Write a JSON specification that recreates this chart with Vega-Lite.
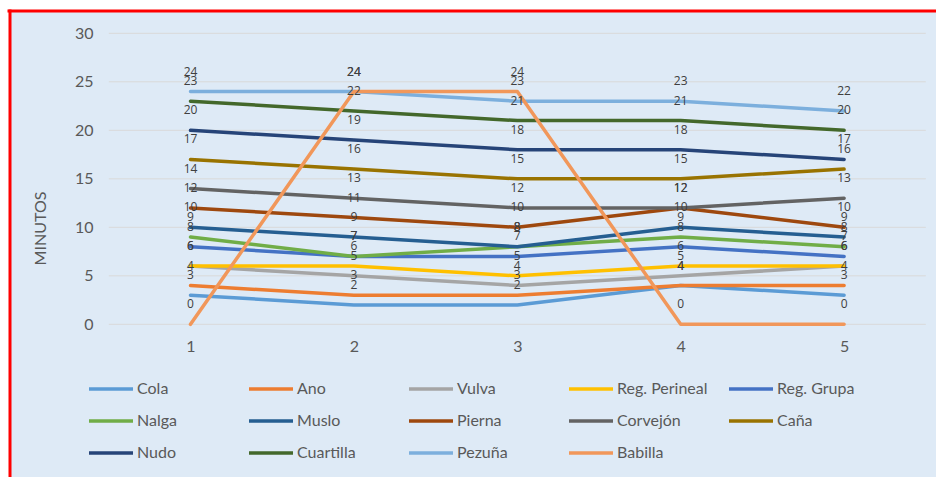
{
  "$schema": "https://vega.github.io/schema/vega-lite/v6.json",
  "width": 927,
  "height": 466,
  "autosize": {"type": "none"},
  "padding": {"left": 9, "top": 11, "right": 0, "bottom": 0},
  "background": "white",
  "config": {
    "view": {"fill": "#DEEAF6", "stroke": null},
    "font": "Lato"
  },
  "datasets": {
    "series": [
      {"serie": "Cola", "intervalo": 1, "minutos": 3}, {"serie": "Cola", "intervalo": 2, "minutos": 2}, {"serie": "Cola", "intervalo": 3, "minutos": 2}, {"serie": "Cola", "intervalo": 4, "minutos": 4}, {"serie": "Cola", "intervalo": 5, "minutos": 3},
      {"serie": "Ano", "intervalo": 1, "minutos": 4}, {"serie": "Ano", "intervalo": 2, "minutos": 3}, {"serie": "Ano", "intervalo": 3, "minutos": 3}, {"serie": "Ano", "intervalo": 4, "minutos": 4}, {"serie": "Ano", "intervalo": 5, "minutos": 4},
      {"serie": "Vulva", "intervalo": 1, "minutos": 6}, {"serie": "Vulva", "intervalo": 2, "minutos": 5}, {"serie": "Vulva", "intervalo": 3, "minutos": 4}, {"serie": "Vulva", "intervalo": 4, "minutos": 5}, {"serie": "Vulva", "intervalo": 5, "minutos": 6},
      {"serie": "Reg. Perineal", "intervalo": 1, "minutos": 6}, {"serie": "Reg. Perineal", "intervalo": 2, "minutos": 6}, {"serie": "Reg. Perineal", "intervalo": 3, "minutos": 5}, {"serie": "Reg. Perineal", "intervalo": 4, "minutos": 6}, {"serie": "Reg. Perineal", "intervalo": 5, "minutos": 6},
      {"serie": "Reg. Grupa", "intervalo": 1, "minutos": 8}, {"serie": "Reg. Grupa", "intervalo": 2, "minutos": 7}, {"serie": "Reg. Grupa", "intervalo": 3, "minutos": 7}, {"serie": "Reg. Grupa", "intervalo": 4, "minutos": 8}, {"serie": "Reg. Grupa", "intervalo": 5, "minutos": 7},
      {"serie": "Nalga", "intervalo": 1, "minutos": 9}, {"serie": "Nalga", "intervalo": 2, "minutos": 7}, {"serie": "Nalga", "intervalo": 3, "minutos": 8}, {"serie": "Nalga", "intervalo": 4, "minutos": 9}, {"serie": "Nalga", "intervalo": 5, "minutos": 8},
      {"serie": "Muslo", "intervalo": 1, "minutos": 10}, {"serie": "Muslo", "intervalo": 2, "minutos": 9}, {"serie": "Muslo", "intervalo": 3, "minutos": 8}, {"serie": "Muslo", "intervalo": 4, "minutos": 10}, {"serie": "Muslo", "intervalo": 5, "minutos": 9},
      {"serie": "Pierna", "intervalo": 1, "minutos": 12}, {"serie": "Pierna", "intervalo": 2, "minutos": 11}, {"serie": "Pierna", "intervalo": 3, "minutos": 10}, {"serie": "Pierna", "intervalo": 4, "minutos": 12}, {"serie": "Pierna", "intervalo": 5, "minutos": 10},
      {"serie": "Corvejón", "intervalo": 1, "minutos": 14}, {"serie": "Corvejón", "intervalo": 2, "minutos": 13}, {"serie": "Corvejón", "intervalo": 3, "minutos": 12}, {"serie": "Corvejón", "intervalo": 4, "minutos": 12}, {"serie": "Corvejón", "intervalo": 5, "minutos": 13},
      {"serie": "Caña", "intervalo": 1, "minutos": 17}, {"serie": "Caña", "intervalo": 2, "minutos": 16}, {"serie": "Caña", "intervalo": 3, "minutos": 15}, {"serie": "Caña", "intervalo": 4, "minutos": 15}, {"serie": "Caña", "intervalo": 5, "minutos": 16},
      {"serie": "Nudo", "intervalo": 1, "minutos": 20}, {"serie": "Nudo", "intervalo": 2, "minutos": 19}, {"serie": "Nudo", "intervalo": 3, "minutos": 18}, {"serie": "Nudo", "intervalo": 4, "minutos": 18}, {"serie": "Nudo", "intervalo": 5, "minutos": 17},
      {"serie": "Cuartilla", "intervalo": 1, "minutos": 23}, {"serie": "Cuartilla", "intervalo": 2, "minutos": 22}, {"serie": "Cuartilla", "intervalo": 3, "minutos": 21}, {"serie": "Cuartilla", "intervalo": 4, "minutos": 21}, {"serie": "Cuartilla", "intervalo": 5, "minutos": 20},
      {"serie": "Pezuña", "intervalo": 1, "minutos": 24}, {"serie": "Pezuña", "intervalo": 2, "minutos": 24}, {"serie": "Pezuña", "intervalo": 3, "minutos": 23}, {"serie": "Pezuña", "intervalo": 4, "minutos": 23}, {"serie": "Pezuña", "intervalo": 5, "minutos": 22},
      {"serie": "Babilla", "intervalo": 1, "minutos": 0}, {"serie": "Babilla", "intervalo": 2, "minutos": 24}, {"serie": "Babilla", "intervalo": 3, "minutos": 24}, {"serie": "Babilla", "intervalo": 4, "minutos": 0}, {"serie": "Babilla", "intervalo": 5, "minutos": 0}
    ],
    "grid": [
      {"minutos": 0}, {"minutos": 5}, {"minutos": 10}, {"minutos": 15}, {"minutos": 20}, {"minutos": 25}, {"minutos": 30}
    ]
  },
  "layer": [
    {
      "data": {"name": "grid"},
      "mark": {"type": "rule", "color": "#D9D9D9", "strokeWidth": 1},
      "encoding": {
        "x": {"datum": 0.5, "type": "quantitative"},
        "x2": {"datum": 5.5},
        "y": {
          "field": "minutos", "type": "quantitative",
          "scale": {"domain": [-15.74, 32.3], "nice": false, "zero": false},
          "axis": {
            "values": [0, 5, 10, 15, 20, 25, 30],
            "grid": false, "ticks": false, "tickSize": 0, "domain": false,
            "labelPadding": -84, "labelFontSize": 16, "labelColor": "#595959", "labelFont": "Lato",
            "title": "MINUTOS", "titleFont": "Lato", "titleFontSize": 16, "titleFontWeight": "normal", "titleColor": "#595959",
            "titleX": 31, "titleY": 217, "titleAngle": -90, "titleBaseline": "middle", "titleAlign": "center"
          }
        }
      }
    },
    {
      "data": {"values": [{}]},
      "mark": {"type": "rule", "color": "#FF0000", "strokeWidth": 3, "strokeCap": "square"},
      "encoding": {
        "y": {"datum": 32.3, "type": "quantitative"}
      }
    },
    {
      "data": {"values": [{}]},
      "mark": {"type": "rule", "color": "#FF0000", "strokeWidth": 3, "strokeCap": "square"},
      "encoding": {
        "x": {"datum": -0.1047, "type": "quantitative"}
      }
    },
    {
      "data": {"name": "series"},
      "mark": {"type": "line", "strokeWidth": 3.5, "strokeCap": "round", "strokeJoin": "round"},
      "encoding": {
        "x": {
          "field": "intervalo", "type": "quantitative",
          "scale": {"domain": [-0.1108, 5.5624], "nice": false, "zero": false},
          "axis": {"orient": "bottom", "values": [1, 2, 3, 4, 5], "format": "d", "domain": false, "ticks": false, "tickSize": 0, "grid": false, "title": null,
                   "labelPadding": -131, "labelBaseline": "middle", "labelFontSize": 16, "labelColor": "#595959", "labelFont": "Lato"}
        },
        "y": {"field": "minutos", "type": "quantitative"},
        "color": {
          "field": "serie", "type": "nominal",
          "scale": {
            "domain": ["Cola", "Ano", "Vulva", "Reg. Perineal", "Reg. Grupa", "Nalga", "Muslo", "Pierna", "Corvejón", "Caña", "Nudo", "Cuartilla", "Pezuña", "Babilla"],
            "range": ["#5B9BD5", "#ED7D31", "#A5A5A5", "#FFC000", "#4472C4", "#70AD47", "#255E91", "#9E480E", "#636363", "#997300", "#264478", "#43682B", "#7CAFDD", "#F1975A"]
          },
          "legend": {
            "orient": "none", "legendX": 78, "legendY": 354, "direction": "horizontal", "columns": 5,
            "title": null, "padding": 0, "gridAlign": "all", "columnPadding": 14, "rowPadding": -8.5,
            "symbolType": "stroke", "symbolSize": 1936, "symbolStrokeWidth": 3.5, "labelOffset": 2,
            "labelFontSize": 16, "labelColor": "#595959", "labelFont": "Lato", "labelLimit": 200
          }
        }
      }
    },
    {
      "data": {"name": "series"},
      "mark": {"type": "text", "dy": -20, "fontSize": 12, "font": "Open Sans", "color": "#404040", "baseline": "middle", "align": "center"},
      "encoding": {
        "x": {"field": "intervalo", "type": "quantitative"},
        "y": {"field": "minutos", "type": "quantitative"},
        "text": {"field": "minutos", "type": "quantitative"}
      }
    }
  ]
}
